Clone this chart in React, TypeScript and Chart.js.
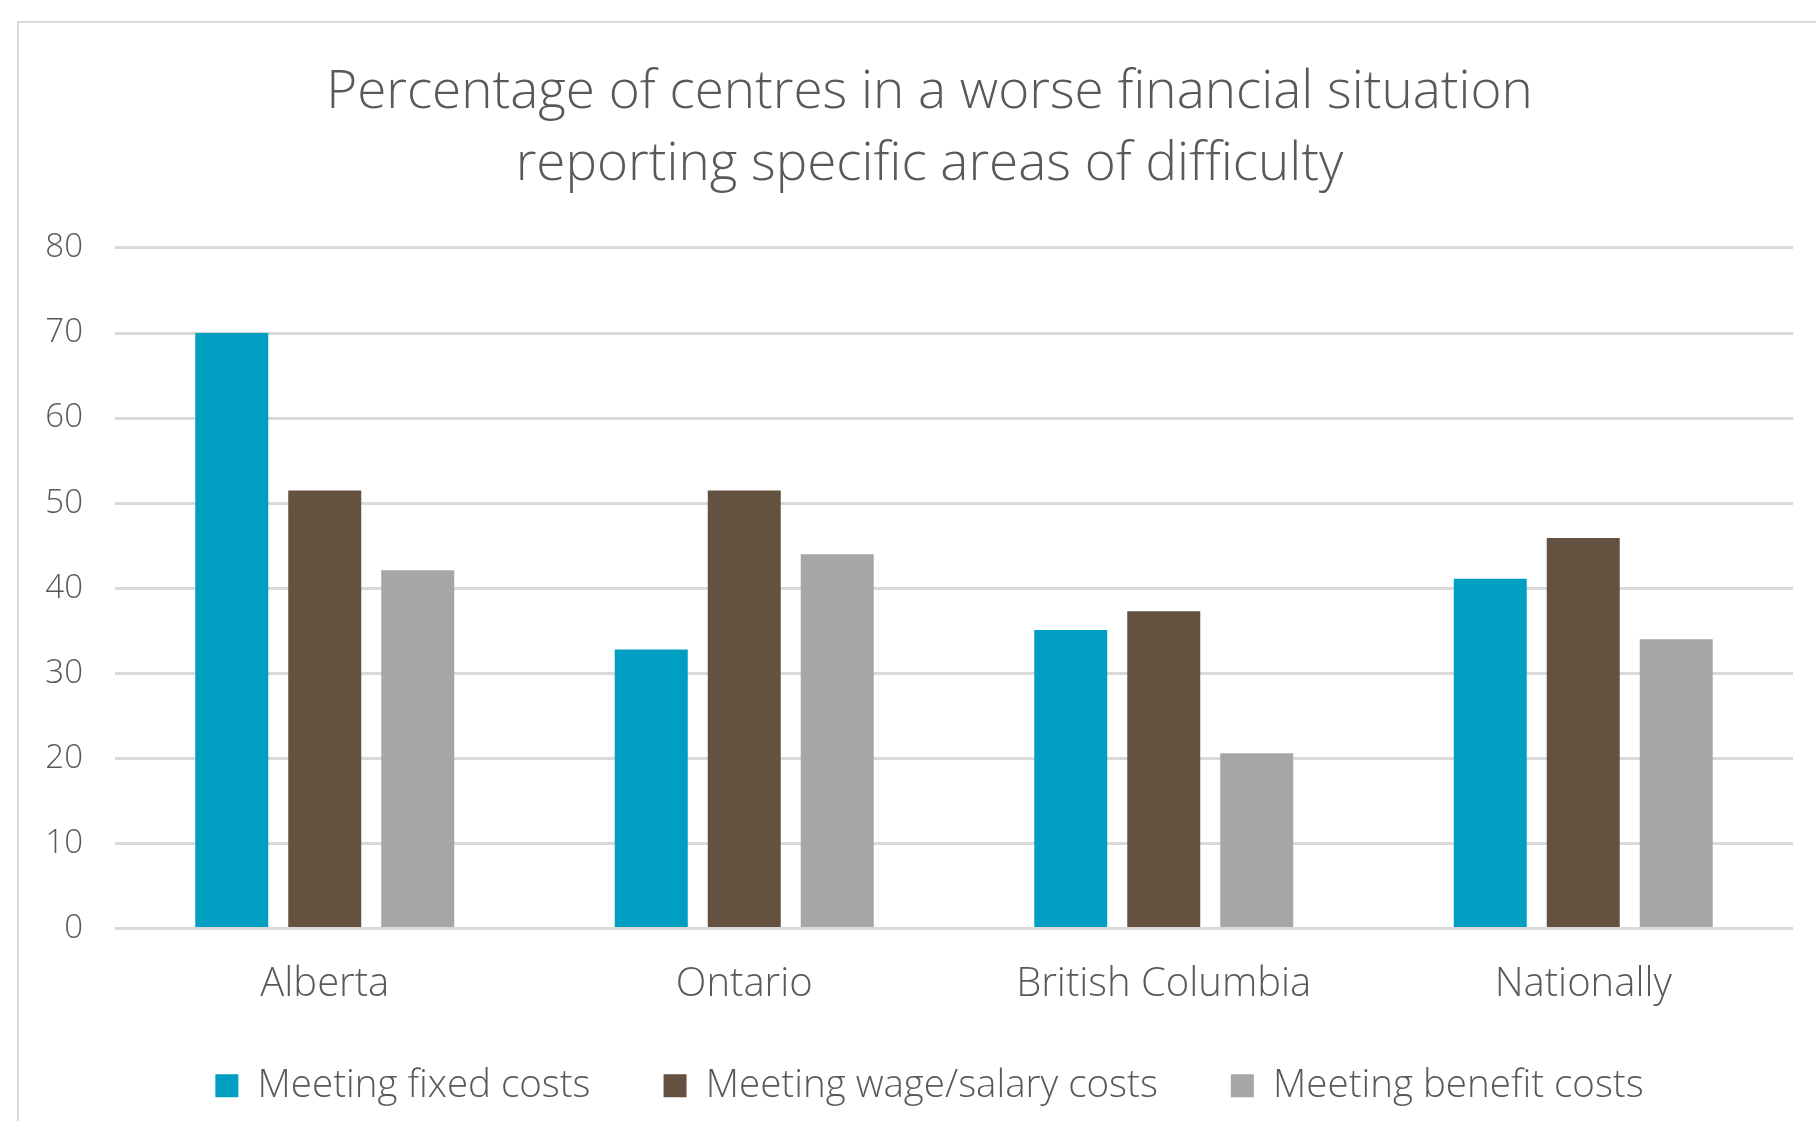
import React, { useEffect, useRef } from 'react';
import { Chart, registerables } from 'chart.js';

Chart.register(...registerables);

const titleLines = ['Percentage of centres in a worse financial situation', 'reporting specific areas of difficulty'];
const categories = ['Alberta', 'Ontario', 'British Columbia', 'Nationally'];
const seriesLabels = ['Meeting fixed costs', 'Meeting wage/salary costs', 'Meeting benefit costs'];
const fixedCosts = [70, 32.8, 35.1, 41.1];
const wageCosts = [51.5, 51.5, 37.3, 45.9];
const benefitCosts = [42.1, 44.0, 20.6, 34.0];
const seriesColors = ['#009FC2', '#655140', '#A6A6A6'];
const yMin = 0;
const yMax = 80;
const yStep = 10;

const FONT = "'Open Sans', 'Noto Sans', sans-serif";
const TEXT = '#595959';
const GRID = '#D9D9D9';

const CANVAS_W = 1821;
const CANVAS_H = 1107;

// pulls the bottom legend up so it sits closer under the category labels
const legendLift = {
  id: 'legendLift',
  afterLayout(chart: any) {
    const lg = chart.legend;
    if (lg) {
      lg.top -= 15;
      lg.bottom -= 15;
    }
  },
};

export default function App() {
  const ref = useRef<HTMLCanvasElement | null>(null);

  useEffect(() => {
    const canvas = ref.current;
    if (!canvas) return;
    const series = [fixedCosts, wageCosts, benefitCosts];
    const chart = new Chart(canvas, {
      type: 'bar',
      data: {
        labels: categories,
        datasets: series.map((vals, i) => ({
          label: seriesLabels[i],
          data: vals,
          backgroundColor: seriesColors[i],
          borderWidth: 0,
          categoryPercentage: 0.665,
          barPercentage: 0.785,
        })),
      },
      plugins: [legendLift],
      options: {
        responsive: false,
        animation: false,
        devicePixelRatio: 1,
        layout: { padding: { left: 0, right: 0, top: 0, bottom: 0 } },
        plugins: {
          title: {
            display: true,
            text: titleLines,
            color: TEXT,
            font: { family: FONT, size: 53, weight: '300', lineHeight: 1.358 },
            padding: { top: 34, bottom: 47 },
          },
          legend: {
            display: true,
            position: 'bottom',
            labels: {
              color: TEXT,
              font: { family: FONT, size: 38.5, weight: '300' },
              boxWidth: 23,
              boxHeight: 23,
              padding: 73,
            },
          },
          tooltip: { enabled: false },
        },
        scales: {
          x: {
            grid: { display: false, drawTicks: false },
            border: { display: false },
            ticks: {
              color: TEXT,
              font: { family: FONT, size: 40, weight: '300', lineHeight: 1.2 },
              padding: 32,
              maxRotation: 0,
            },
            afterFit: (s: any) => {
              s.height = 80;
            },
          },
          y: {
            min: yMin,
            max: yMax,
            grid: { color: GRID, lineWidth: 3, drawTicks: false },
            border: { display: false },
            ticks: {
              stepSize: yStep,
              color: TEXT,
              font: { family: FONT, size: 33, weight: '300' },
              padding: 32,
            },
            afterFit: (s: any) => {
              s.width = 96;
            },
          },
          yRight: {
            type: 'linear',
            position: 'right',
            display: true,
            grid: { display: false, drawTicks: false },
            border: { display: false },
            ticks: { display: false },
            afterFit: (s: any) => {
              s.width = 47;
            },
          },
        },
      },
    } as any);
    return () => chart.destroy();
  }, []);

  return (
    <div
      style={{
        position: 'fixed',
        left: 17,
        top: 21,
        width: CANVAS_W,
        height: 1140,
        border: '2px solid #D9D9D9',
        background: '#fff',
      }}
    >
      <canvas ref={ref} width={CANVAS_W} height={CANVAS_H} style={{ display: 'block', width: CANVAS_W, height: CANVAS_H }} />
    </div>
  );
}
